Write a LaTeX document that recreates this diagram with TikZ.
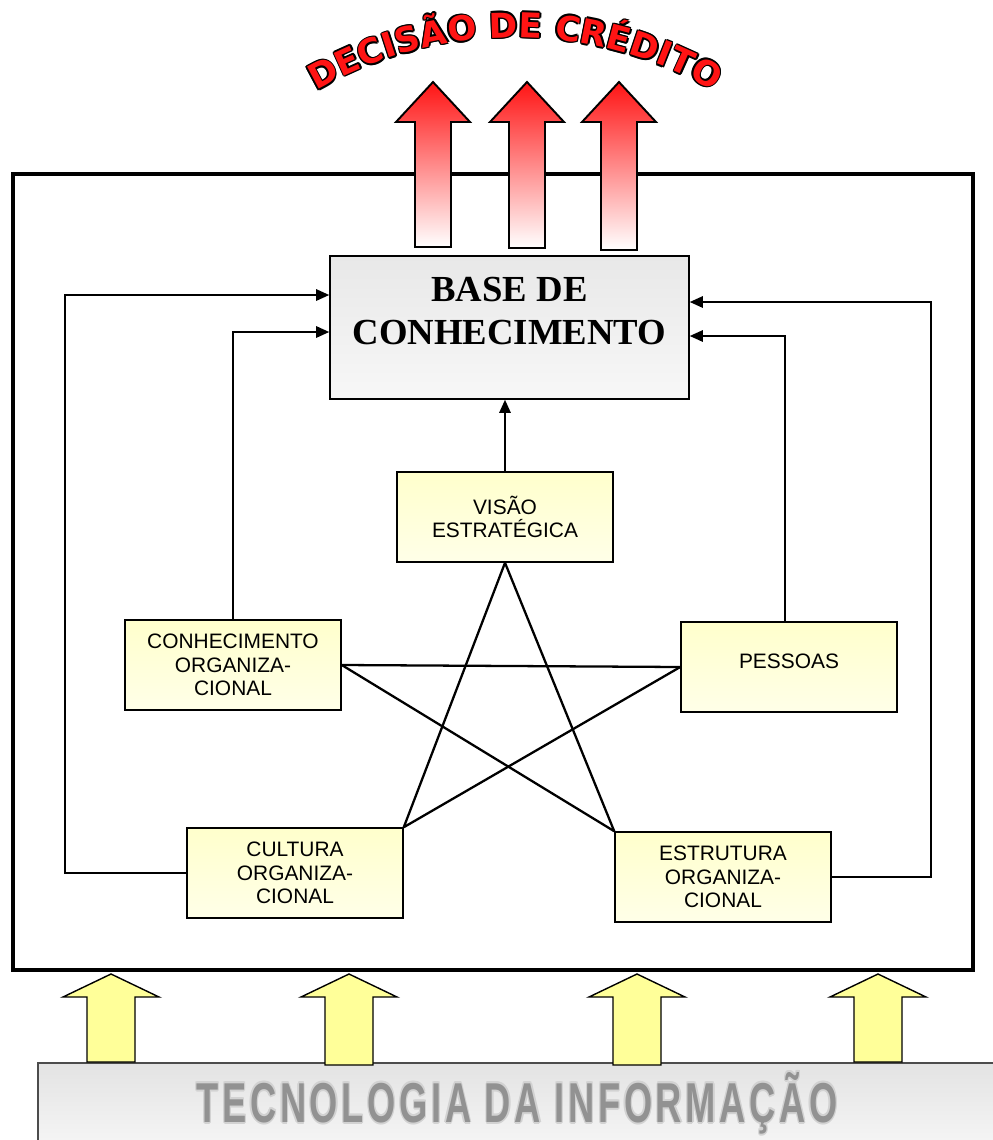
\documentclass[tikz,border=0pt]{standalone}
\usepackage{fontspec}
\setmainfont{Liberation Sans}
\newfontfamily\headserif{Liberation Serif}
\newfontfamily\archfont{DejaVu Sans}
\usetikzlibrary{arrows.meta,calc}

\definecolor{boxyellow}{HTML}{FFFFCC}
\definecolor{arrowyellow}{HTML}{FFFF99}
\definecolor{hotred}{HTML}{FF1414}
\definecolor{rimgray}{HTML}{D2D2D2}
\definecolor{textgray}{HTML}{929292}

% text with a coloured rim: copies shifted in eight directions, fill on top
% (plain \setbox so that the stored glyphs carry no colour of their own)
\newbox\glyphbox
\newdimen\rimw \rimw=0.9pt
\newdimen\rimd \rimd=0.64pt
\newcommand\rimcopy[3]{\rlap{\raisebox{#3}{\kern#2\textcolor{#1}{\copy\glyphbox}}}}
\newcommand\rimtext[3]{\setbox\glyphbox\hbox{#3}%
  \rimcopy{#2}{\rimw}{0pt}\rimcopy{#2}{-\rimw}{0pt}%
  \rimcopy{#2}{0pt}{\rimw}\rimcopy{#2}{0pt}{-\rimw}%
  \rimcopy{#2}{\rimd}{\rimd}\rimcopy{#2}{-\rimd}{\rimd}%
  \rimcopy{#2}{\rimd}{-\rimd}\rimcopy{#2}{-\rimd}{-\rimd}%
  \textcolor{#1}{\copy\glyphbox}}

\tikzset{
  outerframe/.style={line width=2.3pt},
  ybox/.style={draw, line width=0.9pt, top color=boxyellow, bottom color=boxyellow!45!white,
    minimum width=4.32cm, minimum height=1.8cm, align=center, inner sep=2pt,
    font=\fontsize{11.9}{13.4}\selectfont},
  basebox/.style={draw, line width=0.9pt, top color=gray!18, bottom color=gray!6,
    minimum width=7.18cm, minimum height=2.86cm},
  basetext/.style={align=center, inner sep=0pt,
    font=\headserif\bfseries\fontsize{20.9}{24.4}\selectfont},
  conn/.style={line width=1.1pt, -{Triangle[length=7.5pt,width=6.5pt]}},
  starline/.style={line width=1.3pt},
  redarrow/.style={draw, line width=1.1pt, top color=hotred, bottom color=white},
  ylwarrow/.style={draw, line width=0.8pt, fill=arrowyellow},
  itbox/.style={draw=gray!60!black, line width=0.9pt, top color=gray!22, bottom color=gray!5},
  archletter/.style={anchor=base, inner sep=0pt,
    font=\archfont\bfseries\fontsize{19.5}{19.5}\selectfont},
  itlabel/.style={inner sep=0pt,
    font=\bfseries\fontsize{31.5}{32}\selectfont\addfontfeatures{LetterSpace=10}},
}

\begin{document}
\begin{tikzpicture}[x=0.02cm,y=-0.02cm]
\useasboundingbox (0,0) rectangle (993,1140);

% outer frame
\draw[outerframe] (13,174) rectangle (973,970);

% upward red arrows towards the decision
\foreach \cx/\b in {433/247, 527/248, 619/250}
  \path[redarrow] (\cx,82) -- (\cx+37,122) -- (\cx+18,122) -- (\cx+18,\b)
     -- (\cx-18,\b) -- (\cx-18,122) -- (\cx-37,122) -- cycle;

% arched title
\foreach \ch/\ang [count=\i] in {D/118.1, E/114.3, C/110.8, I/108.0, S/105.3, Ã/101.6,
    O/97.5, D/91.6, E/87.8, C/82.5, R/78.8, É/75.2, D/71.4, I/68.4, T/65.7, O/61.9}
  \path (515,432.5) ++(-\ang:395)
    node[archletter, rotate=\ang-90] (arch\i) {\rimtext{hotred}{black}{\ch}};

% knowledge base
\node[basebox] (base) at (509.5,327.5) {};
\node[basetext] (basetxt) at (509.5,311) {BASE DE\\CONHECIMENTO};

% the five dimensions
\node[ybox] (visao) at (505,517) {VISÃO\\ESTRATÉGICA};
\node[ybox] (conh)  at (233,665) {CONHECIMENTO\\ORGANIZA-\\CIONAL};
\node[ybox, text depth=7pt] (pess) at (789,667) {PESSOAS};
\node[ybox] (cult)  at (295,873) {CULTURA\\ORGANIZA-\\CIONAL};
\node[ybox] (estr)  at (723,877) {ESTRUTURA\\ORGANIZA-\\CIONAL};

% pentagram linking them
\draw[starline] (visao.south) -- (cult.north east);
\draw[starline] (visao.south) -- (estr.north west);
\draw[starline] (conh.east) -- (pess.west);
\draw[starline] (conh.east) -- (estr.north west);
\draw[starline] (pess.west) -- (cult.north east);

% feeds into the knowledge base
\draw[conn] (visao.north) -- (visao.north |- base.south);
\draw[conn] (conh.north) |- ([yshift=-0.09cm]base.west);
\draw[conn] (cult.west) -- ++(-121,0) |- ([yshift=0.65cm]base.west);
\draw[conn] ([xshift=-0.08cm]pess.north) |- ([yshift=-0.17cm]base.east);
\draw[conn] (estr.east) -- ++(99,0) |- ([yshift=0.51cm]base.east);

% information technology base
\path[itbox] (38,1063) rectangle (1010,1160);
\foreach \cx/\b in {111/1062, 349/1065, 637/1065, 878/1062}
  \path[ylwarrow] (\cx,974) -- (\cx+48,997) -- (\cx+24,997) -- (\cx+24,\b)
     -- (\cx-24,\b) -- (\cx-24,997) -- (\cx-48,997) -- cycle;
\node[itlabel] (itlbl) at (517,1103)
  {\rimw=1.1pt\rimd=0.8pt\resizebox{12.82cm}{1.04cm}{\rimtext{textgray}{rimgray}{TECNOLOGIA DA INFORMAÇÃO}}};
\end{tikzpicture}
\end{document}
